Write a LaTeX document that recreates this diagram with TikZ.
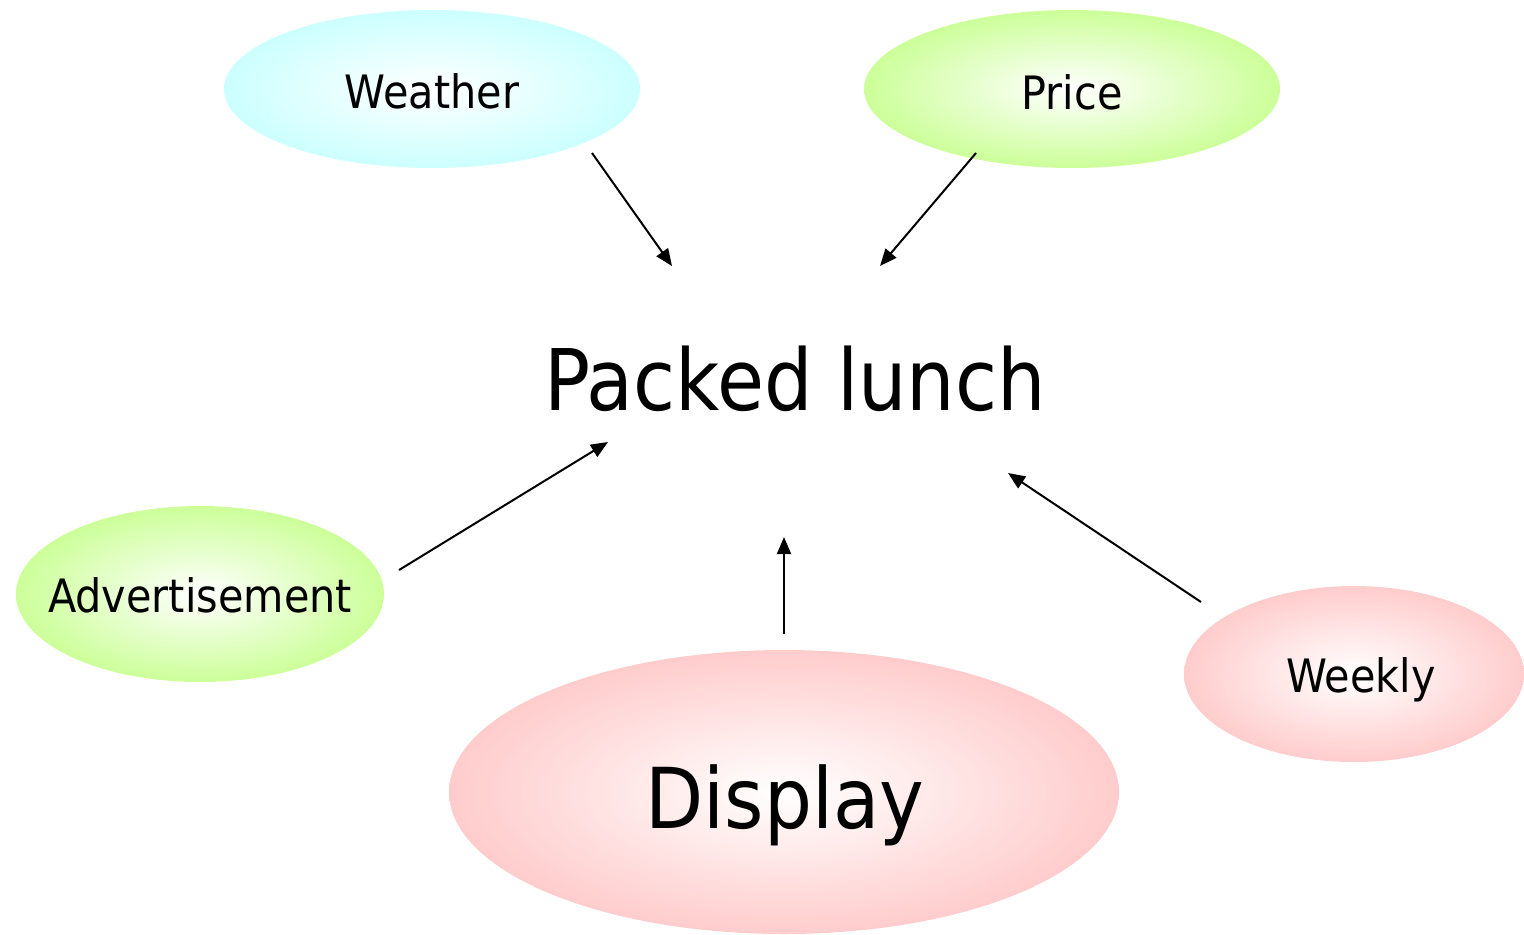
\documentclass[tikz,border=0pt]{standalone}
\usepackage{fontspec}
\setmainfont{DejaVu Sans}[FakeStretch=0.9]
\usetikzlibrary{arrows.meta}
\definecolor{bubblecyan}{RGB}{204,255,255}
\definecolor{bubblegreen}{RGB}{204,255,153}
\definecolor{bubblepink}{RGB}{255,204,204}
\begin{document}
\begin{tikzpicture}[x=0.5pt,y=-0.5pt,
  bubble/.style={shading=radial,inner color=white},
  label/.style={anchor=base,inner sep=0pt,text=black},
  small/.style={label,font=\fontsize{23}{26}\selectfont},
  big/.style={label,font=\fontsize{42.5}{48}\selectfont},
  link/.style={line width=1pt,-{Triangle[length=8.5pt,width=7pt]}}]
\useasboundingbox (0,0) rectangle (1524,934);
\clip (0,0) rectangle (1524,934);
% shaded bubbles
\path[bubble,outer color=bubblecyan]  (432,89)  ellipse (208 and 79);
\path[bubble,outer color=bubblegreen] (1072,89) ellipse (208 and 79);
\path[bubble,outer color=bubblegreen] (200,594) ellipse (184 and 88);
\path[bubble,outer color=bubblepink]  (1354,674) ellipse (170 and 88);
\path[bubble,outer color=bubblepink]  (784,792) ellipse (335 and 142);
% labels
\node[small] (weather) at (432,108) {Weather};
\node[small] (price) at (1072,109) {Price};
\node[small] (advert) at (200,612) {Advertisement};
\node[small] (weekly) at (1361,692) {Weekly};
\node[big] (lunch) at (795,410) {Packed lunch};
\node[big,font=\fontsize{42}{48}\selectfont] (display) at (785,828) {Display};
% arrow end points
\coordinate (w0) at (592,153);  \coordinate (w1) at (672,266);
\coordinate (p0) at (976,153);  \coordinate (p1) at (880,266);
\coordinate (a0) at (399,570);  \coordinate (a1) at (608,442);
\coordinate (d0) at (784,634);  \coordinate (d1) at (784,537);
\coordinate (k0) at (1201,602); \coordinate (k1) at (1008,473);
\draw[link] (w0) -- (w1);
\draw[link] (p0) -- (p1);
\draw[link] (a0) -- (a1);
\draw[link] (d0) -- (d1);
\draw[link] (k0) -- (k1);
\end{tikzpicture}
\end{document}
